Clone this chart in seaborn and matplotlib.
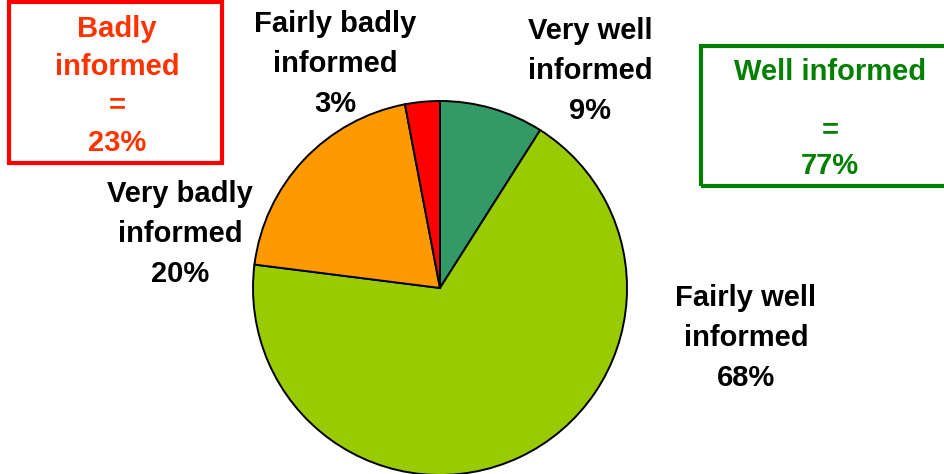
import matplotlib
matplotlib.use("Agg")
import matplotlib.pyplot as plt
from matplotlib.patches import Rectangle
import seaborn as sns

categories = ["Very well\ninformed", "Fairly well\ninformed", "Very badly\ninformed", "Fairly badly\ninformed"]
values = [9, 68, 20, 3]
colors = ["#339966", "#99CC00", "#FF9900", "#FF0000"]
group_labels = ["Badly\ninformed", "Well informed"]
group_values = [23, 77]

sns.set_style("white")
plt.rcParams["font.family"] = ["Liberation Sans", "DejaVu Sans"]

W, H = 945, 474
fig = plt.figure(figsize=(W / 100, H / 100), dpi=100)
ax = fig.add_axes([0, 0, 1, 1])
ax.set_xlim(0, W)
ax.set_ylim(0, H)
ax.set_aspect("equal")
ax.axis("off")

def Y(y):
    return H - y

ax.pie(values, colors=colors, startangle=90, counterclock=False,
       center=(440, Y(288)), radius=187,
       wedgeprops=dict(edgecolor="black", linewidth=1.4))
ax.set_xlim(0, W)
ax.set_ylim(0, H)

fs = 21
label_pos = [(590, 71), (746, 338), (180, 234), (335, 64)]
for cat, v, (x, y) in zip(categories, values, label_pos):
    ax.text(x, Y(y), f"{cat}\n{v}%", ha="center", va="center",
            fontsize=fs, fontweight="bold", color="black", linespacing=1.53)

# Badly informed box
ax.add_patch(Rectangle((9, Y(163)), 213, 161, fill=False, edgecolor="#FF0000", linewidth=3, clip_on=False))
ax.text(117, Y(86), f"{group_labels[0]}\n=\n{group_values[0]}%", ha="center", va="center",
        fontsize=fs, fontweight="bold", color="#FF3300", linespacing=1.45)

# Well informed box
ax.add_patch(Rectangle((701, Y(186)), 260, 140, fill=False, edgecolor="#008000", linewidth=3, clip_on=True))
ax.text(830, Y(72), group_labels[1], ha="center", va="center",
        fontsize=fs, fontweight="bold", color="#008000")
ax.text(830, Y(130), "=", ha="center", va="center",
        fontsize=fs, fontweight="bold", color="#008000")
ax.text(830, Y(166), f"{group_values[1]}%", ha="center", va="center",
        fontsize=fs, fontweight="bold", color="#008000")

fig.savefig("out.png", dpi=100)
